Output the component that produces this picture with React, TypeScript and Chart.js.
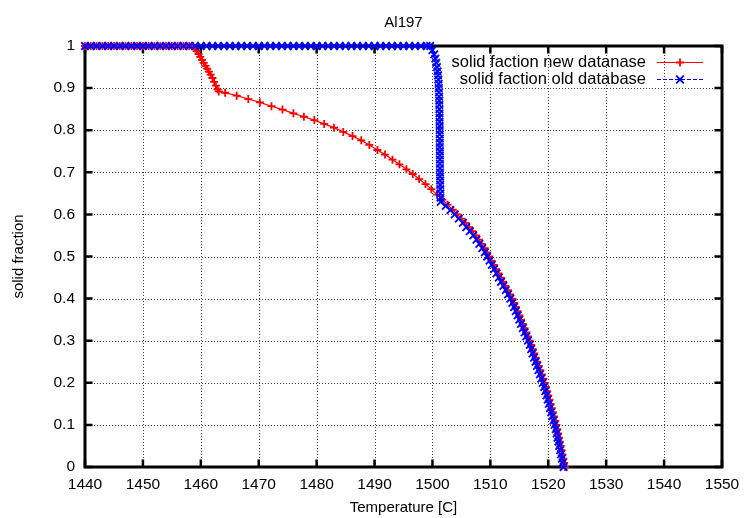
import React, { useEffect, useRef } from 'react';
import { Chart, registerables } from 'chart.js';

Chart.register(...registerables);

const chartTitle = 'Al197';
const xAxisTitle = 'Temperature [C]';
const yAxisTitle = 'solid fraction';
const seriesNames = ['solid faction new datanase', 'solid faction old database'];
const xTickLabels = ['1440', '1450', '1460', '1470', '1480', '1490', '1500', '1510', '1520', '1530', '1540', '1550'];
const yTickLabels = ['0', '0.1', '0.2', '0.3', '0.4', '0.5', '0.6', '0.7', '0.8', '0.9', '1'];

// new database (red)
const newDbTemp = [
  1440, 1441, 1442, 1443, 1444, 1445, 1446, 1447, 1448, 1449,
  1450, 1451, 1452, 1453, 1454, 1455, 1456, 1457, 1458, 1458.7,
  1459.0, 1459.3, 1459.6, 1459.9, 1460.2, 1460.5, 1460.8, 1461.1, 1461.4, 1461.7,
  1462.0, 1462.3, 1462.6, 1462.9, 1463.1,
  1464.2, 1466.2, 1468.2, 1470.2, 1472.2, 1474.1, 1476.0, 1477.8, 1479.6, 1481.3,
  1483.0, 1484.6, 1486.2, 1487.7, 1489.1, 1490.5, 1491.8, 1493.1, 1494.3, 1495.5,
  1496.6, 1497.7, 1498.8, 1499.8, 1500.8, 1501.7, 1502.6, 1503.5, 1504.3, 1505.0,
  1505.7, 1506.3, 1506.9, 1507.5, 1508.0, 1508.5, 1509.0, 1509.4, 1509.8, 1510.2,
  1510.6, 1511.0, 1511.4, 1511.8, 1512.2, 1512.6, 1513.0, 1513.4, 1513.8, 1514.1,
  1514.4, 1514.7, 1515.0, 1515.3, 1515.6, 1515.9, 1516.2, 1516.5, 1516.8, 1517.06,
  1517.32, 1517.58, 1517.84, 1518.1, 1518.36, 1518.62, 1518.88, 1519.14, 1519.4, 1519.6,
  1519.8, 1520.0, 1520.2, 1520.4, 1520.6, 1520.8, 1521.0, 1521.2, 1521.4, 1521.55,
  1521.7, 1521.85, 1522.0, 1522.15, 1522.3, 1522.45, 1522.6, 1522.75, 1522.9,
];
const newDbFrac = [
  1, 1, 1, 1, 1, 1, 1, 1, 1, 1,
  1, 1, 1, 1, 1, 1, 1, 1, 1, 1,
  0.994, 0.988, 0.981, 0.974, 0.967, 0.96, 0.953, 0.946, 0.939, 0.932,
  0.924, 0.915, 0.906, 0.897, 0.892,
  0.889, 0.882, 0.874, 0.866, 0.857, 0.849, 0.84, 0.832, 0.824, 0.815,
  0.806, 0.796, 0.786, 0.776, 0.765, 0.753, 0.742, 0.73, 0.719, 0.707,
  0.696, 0.684, 0.672, 0.66, 0.647, 0.635, 0.623, 0.611, 0.6, 0.59,
  0.58, 0.57, 0.56, 0.55, 0.54, 0.53, 0.52, 0.51, 0.5, 0.49,
  0.48, 0.47, 0.46, 0.45, 0.44, 0.43, 0.42, 0.41, 0.4, 0.39,
  0.38, 0.37, 0.36, 0.35, 0.34, 0.33, 0.32, 0.31, 0.3, 0.29,
  0.28, 0.27, 0.26, 0.25, 0.24, 0.23, 0.22, 0.21, 0.2, 0.19,
  0.18, 0.17, 0.16, 0.15, 0.14, 0.13, 0.12, 0.11, 0.1, 0.09,
  0.08, 0.07, 0.06, 0.05, 0.04, 0.03, 0.02, 0.01, 0,
];

// old database (blue)
const oldDbTemp = [
  1440, 1441, 1442, 1443, 1444, 1445, 1446, 1447, 1448, 1449,
  1450, 1451, 1452, 1453, 1454, 1455, 1456, 1457, 1458, 1459,
  1460, 1461, 1462, 1463, 1464, 1465, 1466, 1467, 1468, 1469,
  1470, 1471, 1472, 1473, 1474, 1475, 1476, 1477, 1478, 1479,
  1480, 1481, 1482, 1483, 1484, 1485, 1486, 1487, 1488, 1489,
  1490, 1491, 1492, 1493, 1494, 1495, 1496, 1497, 1498, 1499,
  1499.6, 1500.0, 1500.3, 1500.5, 1500.65, 1500.78, 1500.88, 1500.96, 1501.02, 1501.07,
  1501.1, 1501.13, 1501.15, 1501.17, 1501.19, 1501.2, 1501.21, 1501.22, 1501.23, 1501.24,
  1501.25, 1501.26, 1501.26, 1501.27, 1501.27, 1501.28, 1501.28, 1501.29, 1501.29, 1501.3,
  1501.3, 1501.31, 1501.32, 1501.33, 1501.34, 1501.36, 1501.38, 1501.42,
  1502.3, 1503.1, 1503.85, 1504.55, 1505.25, 1505.85, 1506.45, 1507.05, 1507.6, 1508.1,
  1508.6, 1509.05, 1509.45, 1509.85, 1510.25, 1510.65, 1511.05, 1511.45, 1511.85, 1512.25,
  1512.65, 1513.05, 1513.45, 1513.8, 1514.1, 1514.4, 1514.7, 1515.0, 1515.3, 1515.6,
  1515.9, 1516.2, 1516.5, 1516.8, 1517.05, 1517.3, 1517.55, 1517.8, 1518.05, 1518.3,
  1518.55, 1518.8, 1519.05, 1519.3, 1519.5, 1519.7, 1519.9, 1520.1, 1520.3, 1520.5,
  1520.7, 1520.9, 1521.1, 1521.3, 1521.45, 1521.6, 1521.75, 1521.9, 1522.05, 1522.2,
  1522.35, 1522.5, 1522.65,
];
const oldDbFrac = [
  1, 1, 1, 1, 1, 1, 1, 1, 1, 1,
  1, 1, 1, 1, 1, 1, 1, 1, 1, 1,
  1, 1, 1, 1, 1, 1, 1, 1, 1, 1,
  1, 1, 1, 1, 1, 1, 1, 1, 1, 1,
  1, 1, 1, 1, 1, 1, 1, 1, 1, 1,
  1, 1, 1, 1, 1, 1, 1, 1, 1, 1,
  1, 0.99, 0.98, 0.97, 0.96, 0.95, 0.94, 0.93, 0.92, 0.91,
  0.9, 0.89, 0.88, 0.87, 0.86, 0.85, 0.84, 0.83, 0.82, 0.81,
  0.8, 0.79, 0.78, 0.77, 0.76, 0.75, 0.74, 0.73, 0.72, 0.71,
  0.7, 0.69, 0.68, 0.67, 0.66, 0.65, 0.64, 0.63,
  0.62, 0.61, 0.6, 0.59, 0.58, 0.57, 0.56, 0.55, 0.54, 0.53,
  0.52, 0.51, 0.5, 0.49, 0.48, 0.47, 0.46, 0.45, 0.44, 0.43,
  0.42, 0.41, 0.4, 0.39, 0.38, 0.37, 0.36, 0.35, 0.34, 0.33,
  0.32, 0.31, 0.3, 0.29, 0.28, 0.27, 0.26, 0.25, 0.24, 0.23,
  0.22, 0.21, 0.2, 0.19, 0.18, 0.17, 0.16, 0.15, 0.14, 0.13,
  0.12, 0.11, 0.1, 0.09, 0.08, 0.07, 0.06, 0.05, 0.04, 0.03,
  0.02, 0.01, 0,
];

const FONT = "'Liberation Sans', Arial, Helvetica, sans-serif";
const RED = 'rgb(255,0,0)';
const BLUE = 'rgb(0,0,255)';

function toPoints(xs: number[], ys: number[]) {
  return xs.map((x, i) => ({ x, y: ys[i] }));
}

function drawPlus(ctx: CanvasRenderingContext2D, x: number, y: number, r: number) {
  ctx.beginPath();
  ctx.moveTo(x - r, y);
  ctx.lineTo(x + r, y);
  ctx.moveTo(x, y - r);
  ctx.lineTo(x, y + r);
  ctx.stroke();
}

function drawX(ctx: CanvasRenderingContext2D, x: number, y: number, r: number) {
  ctx.beginPath();
  ctx.moveTo(x - r, y - r);
  ctx.lineTo(x + r, y + r);
  ctx.moveTo(x - r, y + r);
  ctx.lineTo(x + r, y - r);
  ctx.stroke();
}

const gnuplotFrame = {
  id: 'gnuplotFrame',
  beforeDatasetsDraw(chart: any) {
    const { ctx, chartArea: a, scales } = chart;
    const xs = scales.x;
    const ys = scales.y;
    ctx.save();
    // dotted grid
    ctx.strokeStyle = 'rgb(60,60,60)';
    ctx.lineWidth = 1;
    ctx.setLineDash([1, 2]);
    xs.ticks.forEach((t: any) => {
      if (t.value <= xs.min || t.value >= xs.max) return;
      const px = Math.round(xs.getPixelForValue(t.value)) + 0.5;
      ctx.beginPath();
      ctx.moveTo(px, a.top);
      ctx.lineTo(px, a.bottom);
      ctx.stroke();
    });
    ys.ticks.forEach((t: any) => {
      if (t.value <= ys.min + 1e-9 || t.value >= ys.max - 1e-9) return;
      const py = Math.round(ys.getPixelForValue(t.value)) + 0.5;
      ctx.beginPath();
      ctx.moveTo(a.left, py);
      ctx.lineTo(a.right, py);
      ctx.stroke();
    });
    ctx.setLineDash([]);
    // inward tick marks
    const tl = 7.5;
    ctx.strokeStyle = '#000';
    ctx.lineWidth = 2.5;
    xs.ticks.forEach((t: any) => {
      const px = xs.getPixelForValue(t.value);
      ctx.beginPath();
      ctx.moveTo(px, a.bottom);
      ctx.lineTo(px, a.bottom - tl);
      ctx.moveTo(px, a.top);
      ctx.lineTo(px, a.top + tl);
      ctx.stroke();
    });
    ys.ticks.forEach((t: any) => {
      const py = ys.getPixelForValue(t.value);
      ctx.beginPath();
      ctx.moveTo(a.left, py);
      ctx.lineTo(a.left + tl, py);
      ctx.moveTo(a.right, py);
      ctx.lineTo(a.right - tl, py);
      ctx.stroke();
    });
    // frame
    ctx.lineWidth = 3;
    ctx.strokeRect(a.left, a.top, a.right - a.left, a.bottom - a.top);
    ctx.restore();
  },
  afterDatasetsDraw(chart: any) {
    const { ctx, chartArea: a } = chart;
    ctx.save();
    // title
    ctx.fillStyle = '#000';
    ctx.font = `15px ${FONT}`;
    ctx.textAlign = 'center';
    ctx.textBaseline = 'middle';
    ctx.fillText(chartTitle, (a.left + a.right) / 2, 23);
    // legend
    const textRight = 646;
    const x0 = 657;
    const x1 = 703;
    const rows = [62.5, 79.5];
    ctx.font = `16.5px ${FONT}`;
    ctx.textAlign = 'right';
    ctx.fillStyle = '#000';
    ctx.fillText(seriesNames[0], textRight, rows[0]);
    ctx.fillText(seriesNames[1], textRight, rows[1]);
    ctx.lineWidth = 1.2;
    ctx.strokeStyle = RED;
    ctx.beginPath();
    ctx.moveTo(x0, rows[0]);
    ctx.lineTo(x1, rows[0]);
    ctx.stroke();
    ctx.lineWidth = 1.8;
    drawPlus(ctx, (x0 + x1) / 2, rows[0], 4);
    ctx.strokeStyle = BLUE;
    ctx.lineWidth = 1.2;
    ctx.setLineDash([4, 2]);
    ctx.beginPath();
    ctx.moveTo(x0, rows[1]);
    ctx.lineTo(x1, rows[1]);
    ctx.stroke();
    ctx.setLineDash([]);
    ctx.lineWidth = 1.8;
    drawX(ctx, (x0 + x1) / 2, rows[1], 3.8);
    ctx.restore();
  },
};

export default function App() {
  const canvasRef = useRef<HTMLCanvasElement | null>(null);

  useEffect(() => {
    document.body.style.margin = '0';
    const canvas = canvasRef.current;
    if (!canvas) return;
    const chart = new Chart(canvas, {
      type: 'scatter',
      data: {
        datasets: [
          {
            label: seriesNames[1],
            data: toPoints(oldDbTemp, oldDbFrac),
            showLine: true,
            borderColor: BLUE,
            backgroundColor: BLUE,
            borderWidth: 1,
            borderDash: [4, 2],
            pointStyle: 'crossRot',
            pointRadius: 5.3,
            pointBorderWidth: 1.8,
            pointBorderColor: BLUE,
            pointHoverRadius: 5.3,
            clip: false,
            order: 0,
          } as any,
          {
            label: seriesNames[0],
            data: toPoints(newDbTemp, newDbFrac),
            showLine: true,
            borderColor: RED,
            backgroundColor: RED,
            borderWidth: 1.2,
            pointStyle: 'cross',
            pointRadius: 4,
            pointBorderWidth: 1.8,
            pointBorderColor: RED,
            pointHoverRadius: 4,
            clip: false,
            order: 1,
          } as any,
        ],
      },
      options: {
        animation: false,
        responsive: false,
        devicePixelRatio: 1,
        layout: { padding: { left: 0, right: 22, top: 46, bottom: 0 } },
        plugins: {
          legend: { display: false },
          title: { display: false },
          tooltip: { enabled: false },
        },
        events: [],
        scales: {
          x: {
            type: 'linear',
            min: 1440,
            max: 1550,
            afterFit: (s: any) => {
              s.height = 51;
              s.paddingLeft = 0;
              s.paddingRight = 0;
            },
            grid: { display: false, drawTicks: false },
            border: { display: false },
            ticks: {
              stepSize: 10,
              autoSkip: false,
              maxRotation: 0,
              padding: 8,
              color: '#000',
              font: { family: FONT, size: 15.5 },
              callback: (_v: any, i: number) => xTickLabels[i],
            },
            title: {
              display: true,
              text: xAxisTitle,
              color: '#000',
              font: { family: FONT, size: 15 },
              padding: { top: 0, bottom: 1 },
            },
          },
          y: {
            type: 'linear',
            min: 0,
            max: 1,
            afterFit: (s: any) => {
              s.width = 85;
              s.paddingTop = 0;
              s.paddingBottom = 0;
            },
            grid: { display: false, drawTicks: false },
            border: { display: false },
            ticks: {
              stepSize: 0.1,
              autoSkip: false,
              padding: 10,
              color: '#000',
              font: { family: FONT, size: 15.5 },
              callback: (_v: any, i: number) => yTickLabels[i],
            },
            title: {
              display: true,
              text: yAxisTitle,
              color: '#000',
              font: { family: FONT, size: 15 },
              padding: { top: 10, bottom: 0 },
            },
          },
        },
      } as any,
      plugins: [gnuplotFrame],
    });
    return () => chart.destroy();
  }, []);

  return (
    <div style={{ width: 744, height: 518 }}>
      <canvas ref={canvasRef} width={744} height={518} style={{ display: 'block' }} />
    </div>
  );
}
